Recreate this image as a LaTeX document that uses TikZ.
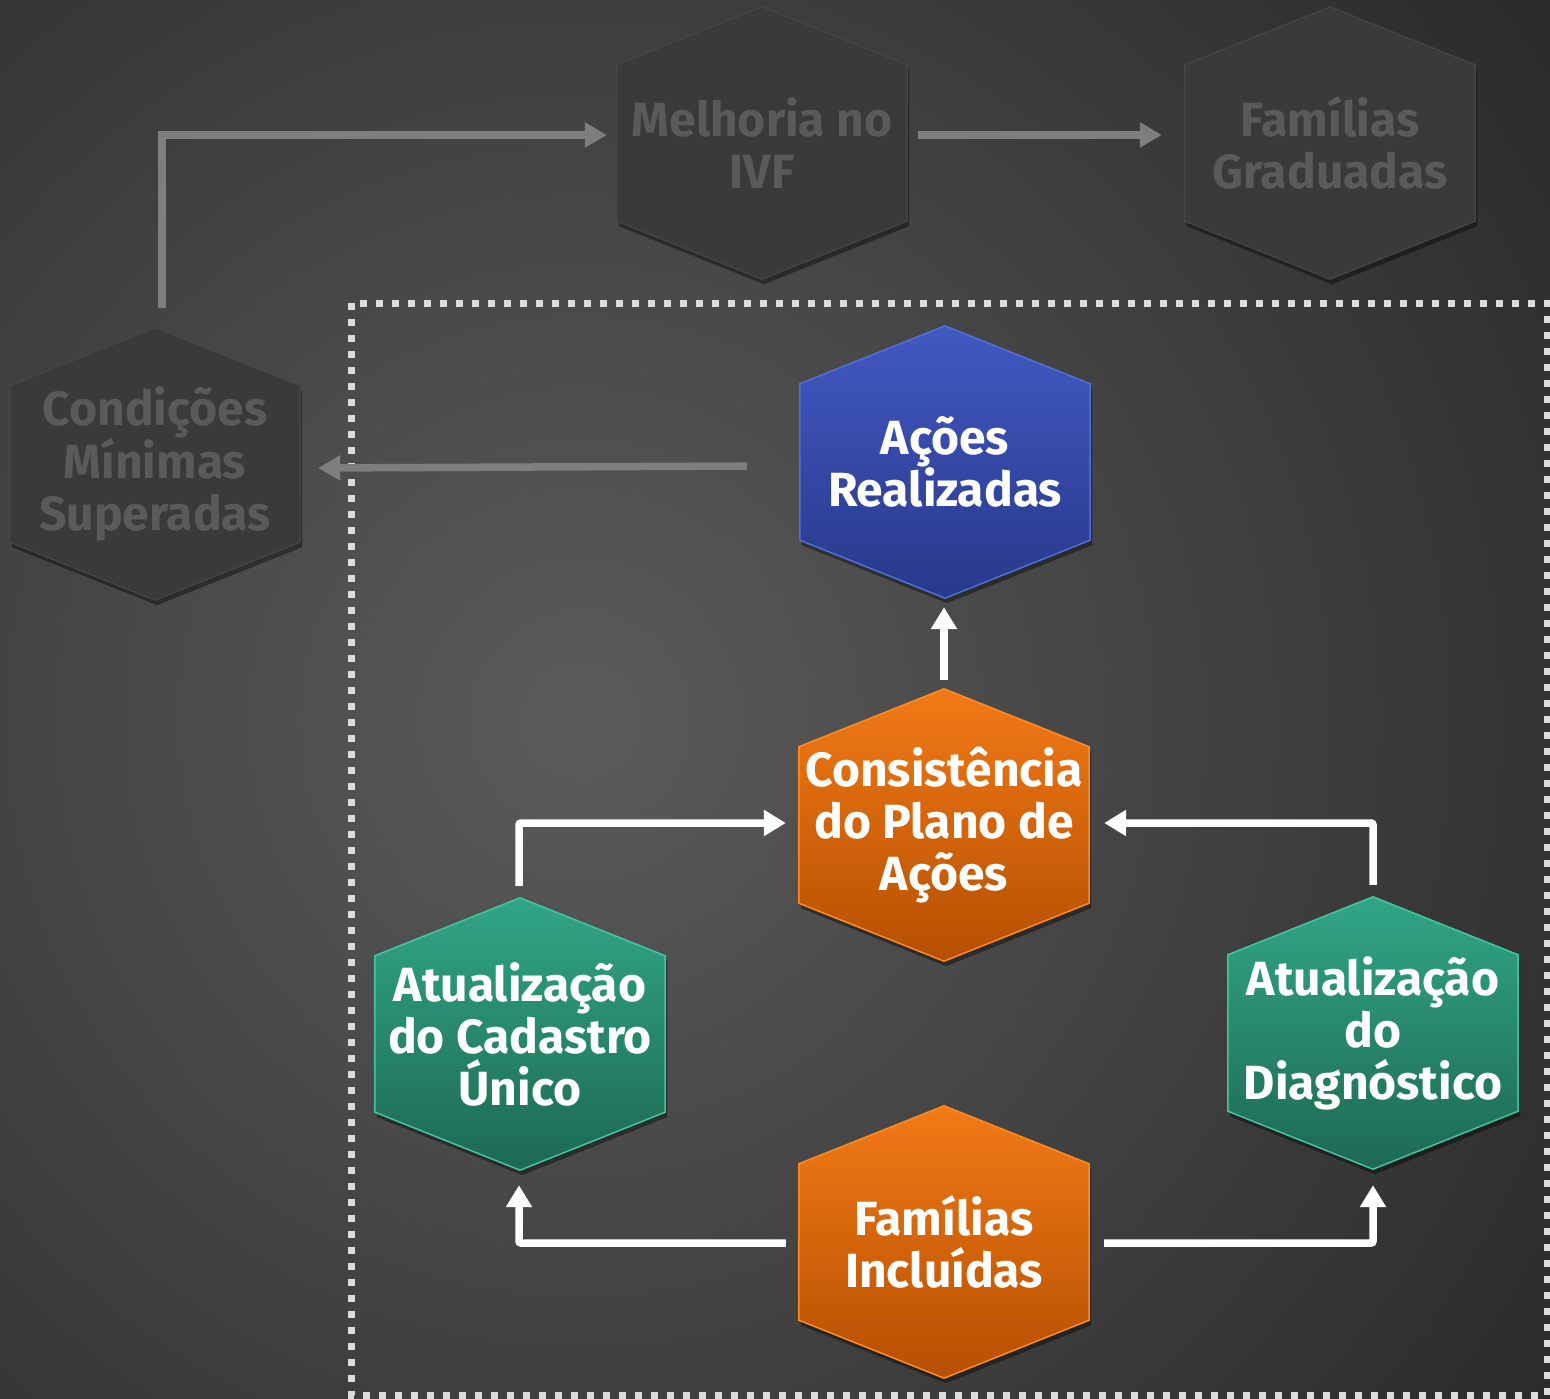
\documentclass[tikz,border=0pt]{standalone}
\usepackage{fontspec}
\setmainfont{Fira Sans}
\usetikzlibrary{arrows.meta,calc}
\pgfdeclarelayer{back}
\pgfdeclarelayer{hexl}
\pgfsetlayers{back,hexl,main}
\definecolor{bgin}{HTML}{5B5B5B}
\definecolor{bgout}{HTML}{262626}
\definecolor{blueT}{HTML}{4259C2}
\definecolor{blueB}{HTML}{27398A}
\definecolor{blueE}{HTML}{5070D8}
\definecolor{orangeT}{HTML}{F27A17}
\definecolor{orangeB}{HTML}{B54F00}
\definecolor{orangeE}{HTML}{FF8C22}
\definecolor{greenT}{HTML}{31A686}
\definecolor{greenB}{HTML}{1D6952}
\definecolor{greenE}{HTML}{44C6A0}
\definecolor{grayF}{HTML}{3A3A3A}
\definecolor{grayE}{HTML}{464646}
\definecolor{grayTxt}{HTML}{5A5A5A}
\definecolor{arrowGray}{HTML}{7E7E7E}
\definecolor{dotcol}{HTML}{DCDCDC}
\tikzset{
  hexbox/.style={minimum width=290pt,minimum height=272pt,inner sep=0pt,align=center,
    font=\bfseries\fontsize{48}{52}\selectfont},
  fadedtxt/.style={hexbox,text=grayTxt},
  livetxt/.style={hexbox,text=white},
  fadedhex/.style={fill=grayF,draw=grayE,line width=1.2pt},
  bluehex/.style={top color=blueT,bottom color=blueB,draw=blueE,line width=1.5pt},
  orangehex/.style={top color=orangeT,bottom color=orangeB,draw=orangeE,line width=1.5pt},
  greenhex/.style={top color=greenT,bottom color=greenB,draw=greenE,line width=1.5pt},
  warrow/.style={draw=white,line width=7.5pt,rounded corners=2pt,-{Triangle[width=25pt,length=22pt]}},
  garrow/.style={draw=arrowGray,line width=7.5pt,-{Triangle[width=24pt,length=22pt]}},
  dotframe/.style={draw=dotcol,line width=7pt,dash pattern=on 7pt off 9pt}
}
\newcommand\hexdraw[2]{%
  \begin{pgfonlayer}{hexl}
  \fill[black,opacity=.4] ([shift={(2,5)}]#1.north) -- ([shift={(2,63)}]#1.north east) -- ([shift={(2,-53)}]#1.south east) -- ([shift={(2,5)}]#1.south) -- ([shift={(2,-53)}]#1.south west) -- ([shift={(2,63)}]#1.north west) -- cycle;
  \path[#2] (#1.north) -- ([shift={(0,58)}]#1.north east) -- ([shift={(0,-58)}]#1.south east) -- (#1.south) -- ([shift={(0,-58)}]#1.south west) -- ([shift={(0,58)}]#1.north west) -- cycle;
  \end{pgfonlayer}}
\begin{document}
\begin{tikzpicture}[x=1pt,y=-1pt]
\useasboundingbox (0,0) rectangle (1550,1399);
\begin{pgfonlayer}{back}
  \fill[bgout] (0,0) rectangle (1550,1399);
  \clip (0,0) rectangle (1550,1399);
  \shade[inner color=bgin,outer color=bgout] (580,720) circle (1300);
\end{pgfonlayer}

% dotted frame
\draw[dotframe] (351,303) rectangle (1547,1395);

% nodes
\node[fadedtxt] (mel) at (762,143) {Melhoria no\\IVF};
\node[fadedtxt] (fg) at (1330,143) {Famílias\\Graduadas};
\node[fadedtxt] (cond) at (155,464) {Condições\\Mínimas\\Superadas};
\node[livetxt] (acoes) at (945,462) {Ações\\Realizadas};
\node[livetxt] (cons) at (944,825) {Consistência\\do Plano de\\Ações};
\node[livetxt] (cad) at (520,1034) {Atualização\\do Cadastro\\Único};
\node[livetxt] (diag) at (1373,1033) {Atualização\\do\\Diagnóstico};
\node[livetxt] (inc) at (944,1242) {Famílias\\Incluídas};

\hexdraw{mel}{fadedhex}
\hexdraw{fg}{fadedhex}
\hexdraw{cond}{fadedhex}
\hexdraw{acoes}{bluehex}
\hexdraw{cons}{orangehex}
\hexdraw{inc}{orangehex}
\hexdraw{cad}{greenhex}
\hexdraw{diag}{greenhex}

% gray connectors
\draw[garrow] ([shift={(7,-20)}]cond.north) |- ([shift={(-10,-8)}]mel.west);
\draw[garrow] ([shift={(11,-8)}]mel.east) -- ([shift={(-23,-8)}]fg.west);
\draw[garrow] ([shift={(-53,4)}]acoes.west) -- ([shift={(18,4)}]cond.east);

% white connectors
\draw[warrow] ([shift={(0,-9)}]cons.north) -- ([shift={(0,9)}]cons.north |- acoes.south);
\draw[warrow] ([shift={(-1,-12)}]cad.north) |- ([shift={(-13,-2)}]cons.west);
\draw[warrow] ([shift={(0,-12)}]diag.north) |- ([shift={(15,-2)}]cons.east);
\draw[warrow] ([shift={(-13,1)}]inc.west) -| ([shift={(-1,15)}]cad.south);
\draw[warrow] ([shift={(15,1)}]inc.east) -| ([shift={(0,16)}]diag.south);
\end{tikzpicture}
\end{document}
